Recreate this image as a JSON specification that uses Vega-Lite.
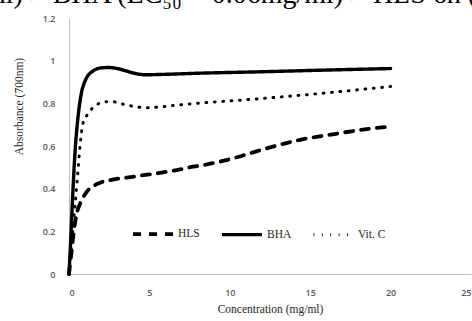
{
  "$schema": "https://vega.github.io/schema/vega-lite/v6.json",
  "width": 402,
  "height": 256,
  "autosize": "none",
  "padding": {"left": 69, "top": 18, "right": 1, "bottom": 47},
  "background": "white",
  "title": {
    "text": "ml) > BHA (EC₅₀ = 0.06mg/ml) > HLS 6h (E",
    "font": "Liberation Serif",
    "fontSize": 28,
    "fontWeight": "normal",
    "color": "black",
    "anchor": "start",
    "frame": "group",
    "baseline": "alphabetic",
    "offset": 0,
    "dy": 17,
    "dx": -85
  },
  "config": {
    "view": {"stroke": null},
    "axis": {"grid": false, "ticks": false, "domainColor": "#bfbfbf", "domainWidth": 1,
      "labelFont": "Open Sans", "labelFontWeight": 600, "labelFontSize": 9, "labelColor": "#595959",
      "titleFont": "Liberation Serif", "titleFontWeight": "normal", "titleFontSize": 11.5, "titleColor": "#262626"}
  },
  "data": {"values": [
    {"series": "BHA", "conc": 0, "abs": 0},
    {"series": "BHA", "conc": 0.1, "abs": 0.15},
    {"series": "BHA", "conc": 0.25, "abs": 0.4},
    {"series": "BHA", "conc": 0.4, "abs": 0.6},
    {"series": "BHA", "conc": 0.5, "abs": 0.69},
    {"series": "BHA", "conc": 0.75, "abs": 0.84},
    {"series": "BHA", "conc": 1, "abs": 0.905},
    {"series": "BHA", "conc": 1.5, "abs": 0.952},
    {"series": "BHA", "conc": 2, "abs": 0.966},
    {"series": "BHA", "conc": 2.5, "abs": 0.968},
    {"series": "BHA", "conc": 3, "abs": 0.963},
    {"series": "BHA", "conc": 3.5, "abs": 0.953},
    {"series": "BHA", "conc": 4, "abs": 0.942},
    {"series": "BHA", "conc": 4.75, "abs": 0.934},
    {"series": "BHA", "conc": 6, "abs": 0.936},
    {"series": "BHA", "conc": 8, "abs": 0.941},
    {"series": "BHA", "conc": 12, "abs": 0.948},
    {"series": "BHA", "conc": 16, "abs": 0.956},
    {"series": "BHA", "conc": 20, "abs": 0.963},
    {"series": "Vit. C", "conc": 0, "abs": 0},
    {"series": "Vit. C", "conc": 0.1, "abs": 0.1},
    {"series": "Vit. C", "conc": 0.25, "abs": 0.22},
    {"series": "Vit. C", "conc": 0.5, "abs": 0.43},
    {"series": "Vit. C", "conc": 0.7, "abs": 0.61},
    {"series": "Vit. C", "conc": 0.85, "abs": 0.7},
    {"series": "Vit. C", "conc": 1.1, "abs": 0.742},
    {"series": "Vit. C", "conc": 1.4, "abs": 0.773},
    {"series": "Vit. C", "conc": 1.8, "abs": 0.797},
    {"series": "Vit. C", "conc": 2.3, "abs": 0.808},
    {"series": "Vit. C", "conc": 2.8, "abs": 0.807},
    {"series": "Vit. C", "conc": 3.3, "abs": 0.797},
    {"series": "Vit. C", "conc": 3.85, "abs": 0.788},
    {"series": "Vit. C", "conc": 4.85, "abs": 0.779},
    {"series": "Vit. C", "conc": 5.5, "abs": 0.782},
    {"series": "Vit. C", "conc": 6.5, "abs": 0.79},
    {"series": "Vit. C", "conc": 8.6, "abs": 0.804},
    {"series": "Vit. C", "conc": 10.7, "abs": 0.815},
    {"series": "Vit. C", "conc": 13, "abs": 0.829},
    {"series": "Vit. C", "conc": 15, "abs": 0.842},
    {"series": "Vit. C", "conc": 17.5, "abs": 0.86},
    {"series": "Vit. C", "conc": 20, "abs": 0.879},
    {"series": "HLS", "conc": 0, "abs": 0},
    {"series": "HLS", "conc": 0.15, "abs": 0.1},
    {"series": "HLS", "conc": 0.3, "abs": 0.2},
    {"series": "HLS", "conc": 0.48, "abs": 0.283},
    {"series": "HLS", "conc": 0.69, "abs": 0.33},
    {"series": "HLS", "conc": 1.1, "abs": 0.385},
    {"series": "HLS", "conc": 1.72, "abs": 0.421},
    {"series": "HLS", "conc": 2.55, "abs": 0.44},
    {"series": "HLS", "conc": 3.6, "abs": 0.452},
    {"series": "HLS", "conc": 4.63, "abs": 0.463},
    {"series": "HLS", "conc": 5.66, "abs": 0.474},
    {"series": "HLS", "conc": 6.7, "abs": 0.487},
    {"series": "HLS", "conc": 7.73, "abs": 0.503},
    {"series": "HLS", "conc": 8.6, "abs": 0.514},
    {"series": "HLS", "conc": 10.2, "abs": 0.542},
    {"series": "HLS", "conc": 12.3, "abs": 0.589},
    {"series": "HLS", "conc": 14.3, "abs": 0.628},
    {"series": "HLS", "conc": 16.4, "abs": 0.655},
    {"series": "HLS", "conc": 18.5, "abs": 0.679},
    {"series": "HLS", "conc": 20, "abs": 0.691}
  ]},
  "mark": {"type": "line", "interpolate": "monotone", "color": "black", "strokeCap": "round"},
  "encoding": {
    "x": {"field": "conc", "type": "quantitative",
      "scale": {"domain": [0, 25], "nice": false, "zero": true},
      "axis": {"values": [0, 5, 10, 15, 20, 25], "labelPadding": 14, "title": "Concentration (mg/ml)", "titlePadding": 6}},
    "y": {"field": "abs", "type": "quantitative",
      "scale": {"domain": [0, 1.2], "nice": false},
      "axis": {"values": [0, 0.2, 0.4, 0.6, 0.8, 1, 1.2], "format": "~g", "labelPadding": 14, "title": "Absorbance (700nm)", "titleX": -50, "titleY": 88, "titleAngle": -90, "titleAlign": "center", "titleBaseline": "middle"}},
    "strokeDash": {"field": "series", "type": "nominal",
      "scale": {"domain": ["HLS", "BHA", "Vit. C"], "range": [[8, 8], [1, 0], [0.8, 7.6]]},
      "legend": {"title": null, "orient": "none", "legendX": 62, "legendY": 194, "direction": "horizontal",
        "padding": 0, "columnPadding": 15, "labelOffset": 3, "symbolType": "stroke", "symbolSize": 1600, "symbolStrokeWidth": 2.5,
        "symbolStrokeColor": "black", "labelFont": "Liberation Serif", "labelFontSize": 11.5, "labelColor": "#262626"}},
    "strokeWidth": {"field": "series", "type": "nominal",
      "scale": {"domain": ["HLS", "BHA", "Vit. C"], "range": [3.8, 3, 3.8]},
      "legend": null}
  }
}
